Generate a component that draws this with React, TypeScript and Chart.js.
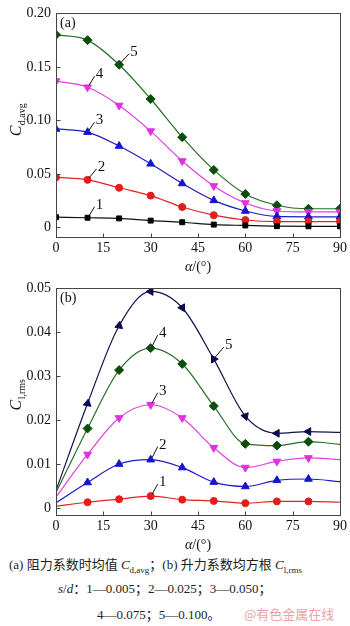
import React, { useEffect, useRef } from 'react';
import { Chart, registerables } from 'chart.js';
Chart.register(...registerables);

const FONT = '"Liberation Serif", "Times New Roman", serif';

const angles = [0, 10, 20, 30, 40, 50, 60, 70, 80, 90];
const xTicks = [0, 15, 30, 45, 60, 75, 90];
const seriesNames = ['1', '2', '3', '4', '5'];

// (a) Cd,avg
const cdS1 = [0.0095, 0.009, 0.0084, 0.0063, 0.0048, 0.0026, 0.0018, 0.0011, 0.001, 0.001];
const cdS2 = [0.0468, 0.0444, 0.037, 0.0297, 0.019, 0.0114, 0.0069, 0.0054, 0.0054, 0.0054];
const cdS3 = [0.092, 0.089, 0.076, 0.0594, 0.041, 0.0252, 0.0153, 0.0102, 0.0099, 0.0099];
const cdS4 = [0.1368, 0.131, 0.114, 0.09, 0.062, 0.0387, 0.0228, 0.0153, 0.0144, 0.0144];
const cdS5 = [0.18, 0.175, 0.152, 0.12, 0.0843, 0.0537, 0.0312, 0.0207, 0.0174, 0.0174];
const cdTicks = [0, 0.05, 0.1, 0.15, 0.2];

// (b) Cl,rms
const clS1 = [0.0004, 0.0013, 0.002, 0.0027, 0.0019, 0.0016, 0.0011, 0.0015, 0.0015, 0.0013];
const clS2 = [0.0012, 0.0058, 0.01, 0.011, 0.0092, 0.0059, 0.0049, 0.0063, 0.0066, 0.006];
const clS3 = [0.0025, 0.0122, 0.0205, 0.0235, 0.0205, 0.0137, 0.0092, 0.0106, 0.0114, 0.011];
const clS4 = [0.0035, 0.0181, 0.0314, 0.0364, 0.0328, 0.0232, 0.0146, 0.0142, 0.0151, 0.0145];
const clS5 = [0.004, 0.0238, 0.0415, 0.0493, 0.0456, 0.0339, 0.0209, 0.017, 0.0174, 0.0172];
const clTicks = [0, 0.01, 0.02, 0.03, 0.04, 0.05];

const framePlugin = {
  id: 'frame',
  afterDraw(chart: any, _args: any, opts: any) {
    const { ctx, chartArea: a, scales } = chart;
    const L = Math.round(a.left) + 0.5;
    const R = Math.round(a.right) + 0.5;
    const T = Math.round(a.top) + 0.5;
    const B = Math.round(a.bottom) + 0.5;
    ctx.save();
    ctx.strokeStyle = '#444';
    ctx.lineWidth = 1;
    ctx.strokeRect(L, T, R - L, B - T);
    // inward ticks
    ctx.beginPath();
    for (const v of opts.yTicks) {
      const y = Math.round(scales.y.getPixelForValue(v)) + 0.5;
      ctx.moveTo(L, y);
      ctx.lineTo(L + 4, y);
    }
    for (const v of xTicks) {
      const x = Math.round(scales.x.getPixelForValue(v)) + 0.5;
      ctx.moveTo(x, B);
      ctx.lineTo(x, B - 4);
    }
    ctx.stroke();

    ctx.fillStyle = '#111';
    // panel letter
    ctx.font = `14px ${FONT}`;
    ctx.textAlign = 'left';
    ctx.textBaseline = 'middle';
    ctx.fillText(opts.letter, a.left + 4, a.top + 10);

    // x title
    const xt = (a.left + a.right) / 2;
    const yt = opts.xTitleY;
    ctx.font = `italic 14px ${FONT}`;
    const wA = ctx.measureText('α').width;
    ctx.font = `14px ${FONT}`;
    const wR = ctx.measureText('/(°)').width;
    const x0 = xt - (wA + wR) / 2;
    ctx.textAlign = 'left';
    ctx.font = `italic 14px ${FONT}`;
    ctx.fillText('α', x0, yt);
    ctx.font = `14px ${FONT}`;
    ctx.fillText('/(°)', x0 + wA, yt);

    // y title (rotated)
    ctx.save();
    ctx.translate(opts.yTitleX, opts.yTitleY);
    ctx.rotate(-Math.PI / 2);
    ctx.textBaseline = 'alphabetic';
    ctx.font = `italic 16px ${FONT}`;
    const wC = ctx.measureText('C').width;
    ctx.font = `10px ${FONT}`;
    const wS = ctx.measureText(opts.ySub).width;
    const s0 = -(wC + wS) / 2;
    ctx.font = `italic 16px ${FONT}`;
    ctx.fillText('C', s0, 5);
    ctx.font = `10px ${FONT}`;
    ctx.fillText(opts.ySub, s0 + wC + 0.5, 9);
    ctx.restore();

    // series labels with leaders
    ctx.font = `15px ${FONT}`;
    ctx.textAlign = 'center';
    ctx.textBaseline = 'middle';
    for (const lb of opts.labels) {
      const pt = chart.getDatasetMeta(lb.ds).data[lb.idx];
      const px = pt.x;
      const py = pt.y;
      ctx.beginPath();
      ctx.strokeStyle = '#111';
      ctx.moveTo(px + 1.5, py - 2);
      ctx.lineTo(px + lb.dx - 5, py + lb.dy + 2);
      ctx.stroke();
      ctx.fillText(seriesNames[lb.ds], px + lb.dx, py + lb.dy);
    }
    ctx.restore();
  },
};

type Series = {
  values: number[];
  line: string;
  marker: string;
  style: string;
  radius: number | number[];
  rotation?: number | number[];
};

function makeConfig(o: {
  series: Series[];
  min: number;
  max: number;
  yTicks: number[];
  top: number;
  xh: number;
  frame: any;
}) {
  return {
    type: 'line',
    data: {
      datasets: o.series.map((s) => ({
        data: angles.map((a, j) => ({ x: a, y: s.values[j] })),
        borderColor: s.line,
        backgroundColor: s.marker,
        pointBackgroundColor: s.marker,
        pointBorderColor: s.marker,
        pointBorderWidth: 1,
        pointStyle: s.style,
        pointRotation: s.rotation ?? 0,
        pointRadius: s.radius,
        borderWidth: 1.2,
        cubicInterpolationMode: 'monotone',
        clip: 0,
      })),
    },
    options: {
      animation: false,
      responsive: false,
      events: [],
      layout: { padding: { top: o.top, right: 7, left: 0, bottom: 0 } },
      plugins: {
        legend: { display: false },
        tooltip: { enabled: false },
        frame: { ...o.frame, yTicks: o.yTicks },
      },
      scales: {
        x: {
          type: 'linear',
          min: 0,
          max: 90,
          afterBuildTicks: (s: any) => {
            s.ticks = xTicks.map((v) => ({ value: v }));
          },
          afterFit: (s: any) => {
            s.height = o.xh;
          },
          grid: { display: false, drawTicks: false },
          border: { display: false },
          ticks: {
            padding: 3,
            color: '#111',
            font: { family: FONT, size: 14 },
            maxRotation: 0,
            autoSkip: false,
            callback: (v: any) => String(v),
          },
        },
        y: {
          type: 'linear',
          min: o.min,
          max: o.max,
          afterBuildTicks: (s: any) => {
            s.ticks = o.yTicks.map((v) => ({ value: v }));
          },
          afterFit: (s: any) => {
            s.width = 56;
          },
          grid: { display: false, drawTicks: false },
          border: { display: false },
          ticks: {
            padding: 5,
            color: '#111',
            font: { family: FONT, size: 14 },
            autoSkip: false,
            callback: (v: any) => (v === 0 ? '0' : Number(v).toFixed(2)),
          },
        },
      },
    },
    plugins: [framePlugin],
  } as any;
}

const cfgA = () =>
  makeConfig({
    series: [
      { values: cdS1, line: '#111111', marker: '#000000', style: 'rect', radius: 3.5 },
      { values: cdS2, line: '#e02424', marker: '#e51c1c', style: 'circle', radius: 3.5 },
      { values: cdS3, line: '#1c1cc8', marker: '#1515d0', style: 'triangle', radius: 4.5 },
      { values: cdS4, line: '#e040e0', marker: '#e030e0', style: 'triangle', radius: 4.5, rotation: 180 },
      { values: cdS5, line: '#2a6e2a', marker: '#0b4d0b', style: 'rectRot', radius: 4.5 },
    ],
    min: -0.009,
    max: 0.2,
    yTicks: cdTicks,
    top: 5,
    xh: 38,
    frame: {
      letter: '(a)',
      ySub: 'd,avg',
      yTitleX: 16,
      yTitleY: 120,
      xTitleY: 267,
      labels: [
        { ds: 4, idx: 2, dx: 15, dy: -13 },
        { ds: 3, idx: 1, dx: 12, dy: -13 },
        { ds: 2, idx: 1, dx: 12, dy: -12 },
        { ds: 1, idx: 1, dx: 14, dy: -13 },
        { ds: 0, idx: 1, dx: 12, dy: -13 },
      ],
    },
  });

const edge = (r: number) => angles.map((_, i) => (i === 0 || i === angles.length - 1 ? 0 : r));

const cfgB = () =>
  makeConfig({
    series: [
      { values: clS1, line: '#e02424', marker: '#e51c1c', style: 'circle', radius: edge(3.5) },
      { values: clS2, line: '#1c1cc8', marker: '#1515d0', style: 'triangle', radius: edge(4.5) },
      { values: clS3, line: '#e040e0', marker: '#e030e0', style: 'triangle', radius: edge(4.5), rotation: 180 },
      { values: clS4, line: '#2a6e2a', marker: '#0b4d0b', style: 'rectRot', radius: edge(4.5) },
      {
        values: clS5,
        line: '#12124e',
        marker: '#0a0a50',
        style: 'triangle',
        radius: edge(4.5),
        rotation: [0, 10, 10, 270, 150, 210, 160, 270, 270, 270],
      },
    ],
    min: -0.0016,
    max: 0.05,
    yTicks: clTicks,
    top: 8,
    xh: 37,
    frame: {
      letter: '(b)',
      ySub: 'l,rms',
      yTitleX: 16,
      yTitleY: 120,
      xTitleY: 270,
      labels: [
        { ds: 4, idx: 5, dx: 15, dy: -14 },
        { ds: 3, idx: 3, dx: 12, dy: -15 },
        { ds: 2, idx: 3, dx: 12, dy: -14 },
        { ds: 1, idx: 3, dx: 12, dy: -15 },
        { ds: 0, idx: 3, dx: 12, dy: -14 },
      ],
    },
  });

function ChartCanvas({ make, height }: { make: () => any; height: number }) {
  const ref = useRef<HTMLCanvasElement>(null);
  useEffect(() => {
    const chart = new Chart(ref.current as HTMLCanvasElement, make());
    return () => chart.destroy();
  }, []);
  return <canvas ref={ref} width={350} height={height} style={{ display: 'block', width: 350, height }} />;
}

const capFont = '"Liberation Serif", "Noto Sans CJK SC", serif';

export default function App() {
  const sub = { fontSize: 9, verticalAlign: 'sub', lineHeight: 0 } as React.CSSProperties;
  return (
    <div style={{ position: 'absolute', left: 0, top: 0, width: 350, height: 626, background: '#fff', color: '#222', fontFamily: capFont }}>
      <div style={{ position: 'absolute', left: 0, top: 0 }}>
        <ChartCanvas make={cfgA} height={275} />
      </div>
      <div style={{ position: 'absolute', left: 0, top: 275 }}>
        <ChartCanvas make={cfgB} height={277} />
      </div>
      <div style={{ position: 'absolute', left: 9, top: 556, fontSize: 13, whiteSpace: 'nowrap', lineHeight: '18px' }}>
        (a) 阻力系数时均值 <i>C</i><span style={sub}>d,avg</span>；(b) 升力系数均方根 <i>C</i><span style={sub}>l,rms</span>
      </div>
      <div style={{ position: 'absolute', left: 58, top: 580, fontSize: 13, whiteSpace: 'nowrap', lineHeight: '18px' }}>
        <i>s</i>/<i>d</i>：1—0.005；2—0.025；3—0.050；
      </div>
      <div style={{ position: 'absolute', left: 97, top: 606, fontSize: 13, whiteSpace: 'nowrap', lineHeight: '18px' }}>
        4—0.075；5—0.100。
      </div>
      <div style={{ position: 'absolute', left: 244, top: 605, fontSize: 13, whiteSpace: 'nowrap', lineHeight: '18px', color: '#eaa2a2', fontFamily: '"Noto Sans CJK SC", sans-serif' }}>
        @有色金属在线
      </div>
    </div>
  );
}
